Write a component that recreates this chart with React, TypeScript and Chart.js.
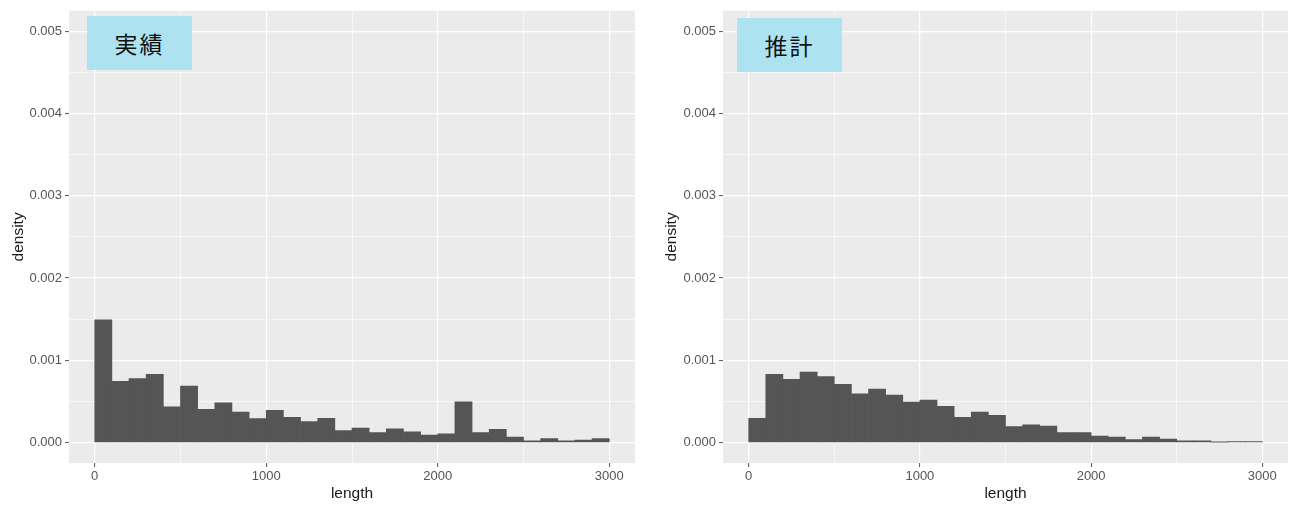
import React, { useEffect, useRef } from "react";
import { Chart, registerables } from "chart.js";

Chart.register(...registerables);

// Histogram bin centres (bin width 100, from 0 to 3000)
const binCenters = [
  50, 150, 250, 350, 450, 550, 650, 750, 850, 950,
  1050, 1150, 1250, 1350, 1450, 1550, 1650, 1750, 1850, 1950,
  2050, 2150, 2250, 2350, 2450, 2550, 2650, 2750, 2850, 2950,
];

// 実績 (actual) densities
const actualDensity = [
  0.00149, 0.000743, 0.000776, 0.000827, 0.000434, 0.000687, 0.000402, 0.000482, 0.00037, 0.00029,
  0.00039, 0.000306, 0.000253, 0.000294, 0.000145, 0.000174, 0.00012, 0.000165, 0.000129, 0.000089,
  0.000105, 0.000494, 0.00012, 0.000161, 0.000065, 0.00002, 0.000048, 0.00002, 0.00003, 0.000048,
];

// 推計 (estimated) densities
const estimatedDensity = [
  0.000294, 0.000828, 0.000768, 0.000856, 0.0008, 0.000707, 0.00059, 0.00065, 0.000575, 0.00049,
  0.000514, 0.000438, 0.000306, 0.00037, 0.00033, 0.000193, 0.000213, 0.000198, 0.00012, 0.00012,
  0.000077, 0.000065, 0.000036, 0.000065, 0.00004, 0.00002, 0.00002, 0.000003, 0.00001, 0.00001,
];

const xTickValues = [0, 500, 1000, 1500, 2000, 2500, 3000];
const yTickValues = [0, 0.0005, 0.001, 0.0015, 0.002, 0.0025, 0.003, 0.0035, 0.004, 0.0045, 0.005];
const panelTitles = ["実績", "推計"];
const xAxisTitle = "length";
const yAxisTitle = "density";

const FONT = "'Liberation Sans', Arial, Helvetica, sans-serif";

const panelBg = {
  id: "panelBg",
  beforeDraw(chart: any) {
    const { ctx, chartArea } = chart;
    ctx.save();
    ctx.fillStyle = "#ebebeb";
    ctx.fillRect(chartArea.left, chartArea.top, chartArea.right - chartArea.left, chartArea.bottom - chartArea.top);
    ctx.restore();
  },
};

const isMajorX = (v: number) => Math.abs(v % 1000) < 1e-9;
const isMajorY = (v: number) => Math.abs(v * 1000 - Math.round(v * 1000)) < 1e-9;

type PanelProps = {
  values: number[];
  title: string;
  left: number;
  yAxisWidth: number;
  rightPad: number;
  yTitlePad: number;
  box: { left: number; top: number };
};

function Panel({ values, title, left, yAxisWidth, rightPad, yTitlePad, box }: PanelProps) {
  const ref = useRef<HTMLCanvasElement | null>(null);

  useEffect(() => {
    if (!ref.current) return;
    const chart = new Chart(ref.current, {
      type: "bar",
      data: {
        datasets: [
          {
            data: binCenters.map((x, i) => ({ x, y: values[i] })),
            backgroundColor: "#555555",
            borderWidth: 0,
            barPercentage: 1,
            categoryPercentage: 1,
          },
        ],
      },
      plugins: [panelBg],
      options: {
        animation: false,
        responsive: false,
        maintainAspectRatio: false,
        layout: { padding: { top: 7, right: rightPad, bottom: 0, left: 0 } },
        plugins: { legend: { display: false }, tooltip: { enabled: false } },
        scales: {
          x: {
            type: "linear",
            min: -150,
            max: 3150,
            offset: false,
            afterBuildTicks: (s: any) => {
              s.ticks = xTickValues.map((v) => ({ value: v }));
            },
            afterFit: (s: any) => {
              s.height = 46;
            },
            border: { display: false },
            grid: {
              offset: false,
              color: "#ffffff",
              lineWidth: (c: any) => (isMajorX(c.tick.value) ? 1.2 : 0.6),
              tickColor: (c: any) => (isMajorX(c.tick.value) ? "#555555" : "rgba(0,0,0,0)"),
              tickLength: 4,
              tickWidth: 1,
              drawTicks: true,
            },
            ticks: {
              autoSkip: false,
              maxRotation: 0,
              padding: 2,
              color: "#555555",
              font: { family: FONT, size: 13 },
              callback: (v: any) => (isMajorX(Number(v)) ? String(v) : ""),
            },
            title: {
              display: true,
              text: xAxisTitle,
              color: "#1a1a1a",
              font: { family: FONT, size: 15.5 },
              padding: { top: 0, bottom: 5.7 },
            },
          },
          y: {
            type: "linear",
            min: -0.00025,
            max: 0.00525,
            afterBuildTicks: (s: any) => {
              s.ticks = yTickValues.map((v) => ({ value: v }));
            },
            afterFit: (s: any) => {
              s.width = yAxisWidth;
            },
            border: { display: false },
            grid: {
              color: "#ffffff",
              lineWidth: (c: any) => (isMajorY(c.tick.value) ? 1.2 : 0.6),
              tickColor: (c: any) => (isMajorY(c.tick.value) ? "#555555" : "rgba(0,0,0,0)"),
              tickLength: 4,
              tickWidth: 1,
              drawTicks: true,
            },
            ticks: {
              autoSkip: false,
              padding: 3,
              color: "#555555",
              font: { family: FONT, size: 13 },
              callback: (v: any) => (isMajorY(Number(v)) ? Number(v).toFixed(3) : ""),
            },
            title: {
              display: true,
              text: yAxisTitle,
              color: "#1a1a1a",
              font: { family: FONT, size: 15.5 },
              padding: { top: yTitlePad, bottom: 0 },
            },
          },
        },
      } as any,
    });
    return () => chart.destroy();
  }, [values, yAxisWidth, rightPad, yTitlePad]);

  return (
    <div style={{ position: "absolute", left, top: 0, width: 648, height: 509 }}>
      <canvas ref={ref} width={648} height={509} style={{ width: 648, height: 509, display: "block" }} />
      <div
        style={{
          position: "absolute",
          left: box.left,
          top: box.top,
          width: 105,
          height: 54,
          background: "#ade3f0",
          display: "flex",
          alignItems: "center",
          justifyContent: "center",
          fontFamily: "'Noto Sans CJK JP', sans-serif",
          fontSize: 23,
          letterSpacing: 2,
          color: "#111111",
          lineHeight: 1,
        }}
      >
        {title}
      </div>
    </div>
  );
}

export default function App() {
  return (
    <div style={{ position: "fixed", left: 0, top: 0, width: 1296, height: 509, background: "#ffffff", overflow: "hidden" }}>
      <Panel values={actualDensity} title={panelTitles[0]} left={0} yAxisWidth={69} rightPad={13} yTitlePad={9} box={{ left: 87, top: 16 }} />
      <Panel values={estimatedDensity} title={panelTitles[1]} left={648} yAxisWidth={75} rightPad={8} yTitlePad={14.7} box={{ left: 89, top: 18 }} />
    </div>
  );
}
